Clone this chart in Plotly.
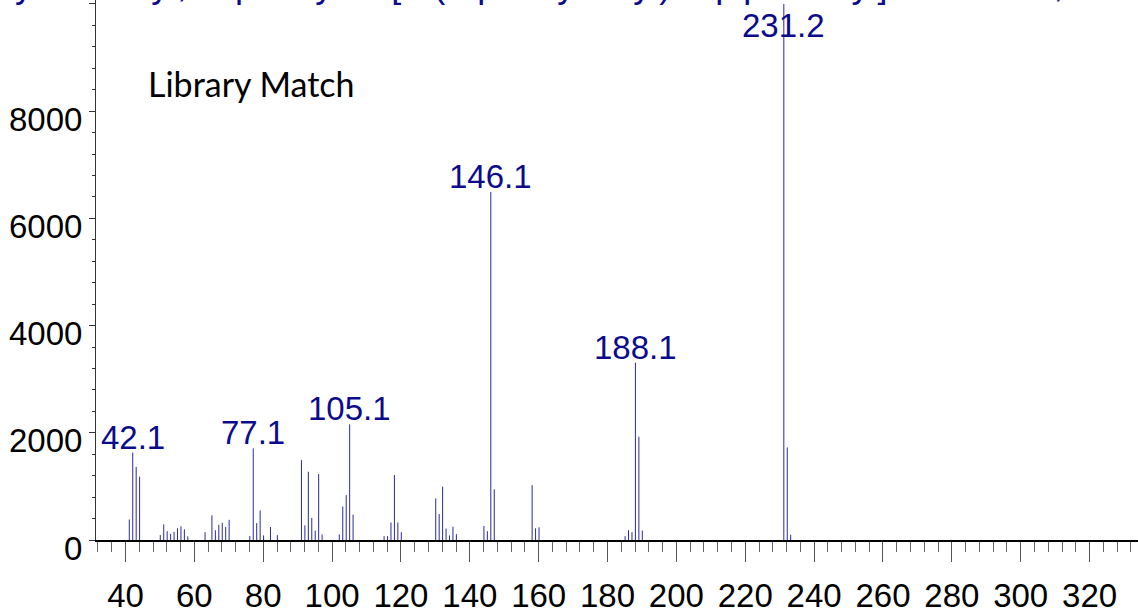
import plotly.graph_objects as go

# Mass spectrum (library match) - m/z positions and abundances
mz = [41.1, 42.1, 43.1, 44.1, 50.1, 51.1, 52.1, 53.1, 54.1, 55.1, 56.1, 57.1, 58.1,
      63.1, 65.1, 66.1, 67.1, 68.1, 69.1, 70.1, 76.1, 77.1, 78.1, 79.1, 80.1, 82.1, 84.1,
      91.1, 92.1, 93.1, 94.1, 95.1, 96.1, 97.1, 102.1, 103.1, 104.1, 105.1, 106.1,
      115.1, 116.1, 117.1, 118.1, 119.1, 120.1, 130.1, 131.1, 132.1, 133.1, 134.1, 135.1, 136.1,
      144.1, 145.1, 146.1, 147.1, 158.1, 159.1, 160.1,
      185.1, 186.1, 187.1, 188.1, 189.1, 190.1, 231.2, 232.2, 233.2]
abundance = [382, 1631, 1364, 1182, 91, 291, 164, 115, 152, 218, 255, 200, 67,
             146, 461, 182, 285, 321, 243, 376, 72, 1709, 315, 551, 85, 243, 91,
             1491, 273, 1273, 412, 176, 1231, 103, 103, 624, 836, 2158, 473,
             72, 72, 327, 1213, 327, 146, 776, 485, 995, 212, 85, 249, 109,
             261, 164, 6491, 945, 1024, 218, 236,
             72, 182, 146, 3309, 1927, 176, 9999, 1727, 97]

# Peaks annotated with their m/z
labeled_mz = [42.1, 77.1, 105.1, 146.1, 188.1, 231.2]

title_text = "Acetyl fentanyl, N-phenyl-N-[1-(2-phenylethyl)-4-piperidinyl]acetamide, C21H26N2O"
panel_text = "Library Match"

X_RANGE = [31.43, 334.07]
Y_RANGE = [0, 10073]

SANS = "Liberation Sans, Arial, sans-serif"
LABEL_BLUE = "#0b0b8c"
STICK_BLUE = "#2a2aa0"

# Build stick segments (vertical line from baseline to abundance for each m/z)
sx, sy = [], []
for m, a in zip(mz, abundance):
    sx += [m, m, None]
    sy += [0, a, None]

fig = go.Figure()
fig.add_trace(go.Scatter(x=sx, y=sy, mode="lines",
                         line=dict(color=STICK_BLUE, width=1),
                         hoverinfo="skip", showlegend=False))

annotations = []
y_cap = Y_RANGE[1] * 0.885
for m in labeled_mz:
    a = abundance[mz.index(m)]
    if a < y_cap:
        annotations.append(dict(x=m, y=a, xref="x", yref="y", text=f"{m:.1f}",
                                showarrow=False, xanchor="center", yanchor="bottom",
                                yshift=-5,
                                font=dict(family=SANS, size=33, color=LABEL_BLUE)))
    else:
        # label kept inside the top edge when the peak reaches the top
        annotations.append(dict(x=m, y=1, xref="x", yref="paper", text=f"{m:.1f}",
                                showarrow=False, xanchor="center", yanchor="top",
                                yshift=-5,
                                font=dict(family=SANS, size=33, color=LABEL_BLUE)))

annotations.append(dict(x=-0.1488, y=1, xref="paper", yref="paper", text=title_text,
                        showarrow=False, xanchor="left", yanchor="bottom", yshift=-7,
                        font=dict(family=SANS, size=36, color=LABEL_BLUE)))
annotations.append(dict(x=(146 - 96) / 1042, y=(554 - 97) / 554, xref="paper", yref="paper",
                        text=panel_text, showarrow=False, xanchor="left", yanchor="bottom",
                        yshift=-11,
                        font=dict(family="Lato, Open Sans, sans-serif", size=34, color="black")))

fig.update_layout(
    width=1138, height=614,
    margin=dict(l=96, r=0, t=0, b=60),
    plot_bgcolor="white", paper_bgcolor="white",
    annotations=annotations,
    xaxis=dict(range=X_RANGE, tick0=0, dtick=20, ticks="outside", ticklen=20,
               tickcolor="#555", tickwidth=1, showline=True, linecolor="black",
               linewidth=1.5, showgrid=False, zeroline=False, ticklabelstandoff=6,
               tickfont=dict(family=SANS, size=33, color="black"),
               minor=dict(tick0=0, dtick=4, ticks="outside", ticklen=10,
                          tickcolor="#666", tickwidth=1, showgrid=False)),
    yaxis=dict(range=Y_RANGE, tick0=0, dtick=2000, ticks="outside", ticklen=6,
               tickcolor="#333", showline=True, linecolor="#333", linewidth=1,
               showgrid=False, zeroline=False, tickformat="d", ticklabelshift=8,
               tickfont=dict(family=SANS, size=33, color="black"),
               minor=dict(tick0=0, dtick=400, ticks="outside", ticklen=3,
                          tickcolor="#333", showgrid=False)),
)

fig.write_html("out.html")
